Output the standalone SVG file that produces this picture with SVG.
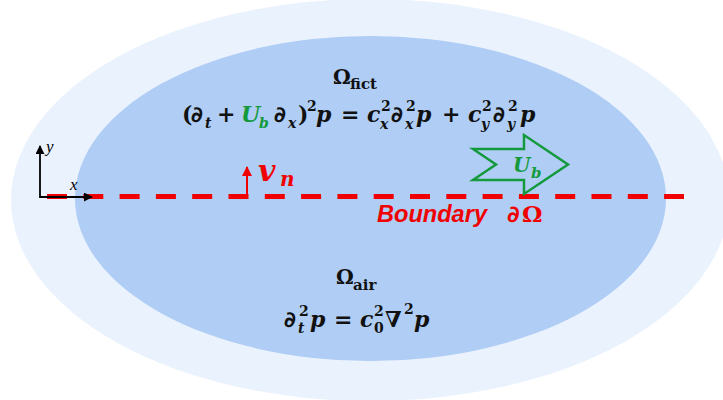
<svg xmlns="http://www.w3.org/2000/svg" width="723" height="400" viewBox="0 0 723 400">
<defs>
<marker id="ah" viewBox="0 0 10 10" refX="9" refY="5" markerWidth="5" markerHeight="5" orient="auto" markerUnits="strokeWidth"><path d="M0,0 L10,5 L0,10 z" fill="#000"/></marker>
<marker id="ahr" viewBox="0 0 10 10" refX="9" refY="5" markerWidth="5" markerHeight="5" orient="auto" markerUnits="strokeWidth"><path d="M0,0 L10,5 L0,10 z" fill="#F00000"/></marker>
<style>
.m{font-family:"DejaVu Serif","Liberation Serif",serif;font-weight:bold;font-style:italic;font-size:22px;fill:#111}
.u{font-family:"DejaVu Serif","Liberation Serif",serif;font-weight:bold;font-style:normal;font-size:22px;fill:#111}
.d{font-family:"DejaVu Sans",sans-serif;font-weight:bold;font-style:italic;font-size:22px;fill:#111}
.s{font-size:14px}
.g{fill:#149A3C}
.r{fill:#F00000}
.ax{font-family:"Liberation Serif",serif;font-style:italic;font-size:17px;fill:#000}
</style>
</defs>
<rect width="723" height="400" fill="#fff"/>
<g id="outer-domain"><ellipse cx="370" cy="200" rx="359" ry="201" fill="#EAF2FD"/></g>
<g id="inner-domain"><ellipse cx="370.5" cy="198.5" rx="295.5" ry="162.5" fill="#AFCDF5"/></g>

<g id="omega-fict">
<text class="u" x="333" y="84" style="font-size:20px">Ω</text>
<text class="u" x="350" y="89" style="font-size:15px">fict</text>
</g>
<g id="equation-fict">
<text class="u" x="182" y="122">(</text>
<text class="d" x="191" y="122">∂</text>
<text class="m s" x="205" y="128">t</text>
<text class="u" x="217" y="122">+</text>
<text class="m g" x="241" y="122">U</text>
<text class="m s g" x="259" y="128">b</text>
<text class="d" x="274" y="122">∂</text>
<text class="m s" x="288" y="128">x</text>
<text class="u" x="298" y="122">)</text>
<text class="u s" x="307" y="111">2</text>
<text class="m" x="316" y="122">p</text>
<text class="u" x="341" y="122">=</text>
<text class="m" x="367" y="122">c</text>
<text class="u s" x="381" y="111">2</text>
<text class="m s" x="380" y="129">x</text>
<text class="d" x="391" y="122">∂</text>
<text class="u s" x="406" y="111">2</text>
<text class="m s" x="405" y="129">x</text>
<text class="m" x="416" y="122">p</text>
<text class="u" x="442" y="122">+</text>
<text class="m" x="468" y="122">c</text>
<text class="u s" x="482" y="111">2</text>
<text class="m s" x="481" y="129">y</text>
<text class="d" x="493" y="122">∂</text>
<text class="u s" x="508" y="111">2</text>
<text class="m s" x="507" y="129">y</text>
<text class="m" x="520" y="122">p</text>
</g>

<g id="omega-air">
<text class="u" x="336" y="284" style="font-size:20px">Ω</text>
<text class="u" x="353" y="290" style="font-size:15px">air</text>
</g>
<g id="equation-air">
<text class="d" x="284" y="327">∂</text>
<text class="u s" x="299" y="316">2</text>
<text class="m s" x="298" y="333">t</text>
<text class="m" x="310" y="327">p</text>
<text class="u" x="334" y="327">=</text>
<text class="m" x="360" y="327">c</text>
<text class="u s" x="374" y="316">2</text>
<text class="u s" x="374" y="333">0</text>
<text class="u" x="385" y="327">∇</text>
<text class="u s" x="404" y="314">2</text>
<text class="m" x="414" y="327">p</text>
</g>

<g id="connectors">
<line x1="47" y1="196.5" x2="684" y2="196.5" stroke="#F00000" stroke-width="5" stroke-dasharray="20 16.3"/>
<line x1="40" y1="197" x2="40" y2="146" stroke="#000" stroke-width="1.8" marker-end="url(#ah)"/>
<line x1="39.1" y1="197" x2="92" y2="197" stroke="#000" stroke-width="1.8" marker-end="url(#ah)"/>
<line x1="247" y1="195" x2="247" y2="167" stroke="#F00000" stroke-width="2" marker-end="url(#ahr)"/>
</g>

<g id="axes-labels">
<text class="ax" x="46" y="152">y</text>
<text class="ax" x="70" y="190">x</text>
</g>

<g id="vn-label">
<text class="m r" x="258" y="181" style="font-size:30px">v</text>
<text class="m r" x="280" y="186" style="font-size:20px">n</text>
</g>

<g id="ub-arrow">
<polygon points="473,149 496,164.5 473,180 524,180 524,194 568,164.5 524,135 524,149" fill="none" stroke="#149A3C" stroke-width="2.5" stroke-linejoin="miter"/>
<text class="m g" x="513" y="172" style="font-size:20px">U</text>
<text class="m g" x="531" y="178" style="font-size:15px">b</text>
</g>

<g id="boundary-label">
<text x="377" y="222" font-family="'Liberation Sans',Arial,sans-serif" font-weight="bold" font-style="italic" font-size="23" fill="#F00000" textLength="110" lengthAdjust="spacingAndGlyphs">Boundary</text>
<text class="d r" x="507" y="222" style="font-size:23px">∂</text>
<text class="u r" x="522" y="222" style="font-size:23px">Ω</text>
</g>
</svg>
